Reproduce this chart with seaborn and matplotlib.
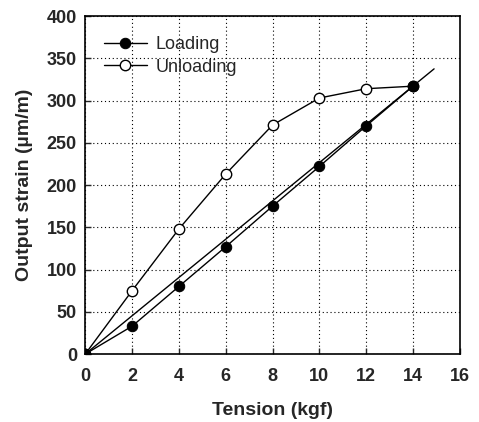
import numpy as np
import pandas as pd
import matplotlib
matplotlib.use('Agg')
import matplotlib.pyplot as plt
import seaborn as sns

# values
tension = [0, 2, 4, 6, 8, 10, 12, 14]
loading = [0, 33, 80, 127, 175, 222, 270, 317]
unloading = [0, 75, 148, 213, 271, 303, 314, 317]
fit_x = [0, 14.9]
fit_slope = 22.65

sns.set_style('ticks')
plt.rcParams['font.family'] = ['Liberation Sans', 'DejaVu Sans']

df = pd.DataFrame({'Tension': tension, 'Loading': loading, 'Unloading': unloading})

fig = plt.figure(figsize=(4.79, 4.22), dpi=100)
ax = fig.add_axes([0.178, 0.161, 0.782, 0.801])

# linear fit through origin
fx = np.array(fit_x)
ax.plot(fx, fit_slope * fx, color='black', lw=1.0, zorder=2)

sns.lineplot(data=df, x='Tension', y='Unloading', ax=ax, color='black', lw=1.0,
             marker='o', markersize=7.5, markerfacecolor='white',
             markeredgecolor='black', markeredgewidth=1.0, label='Unloading', zorder=3)
sns.lineplot(data=df, x='Tension', y='Loading', ax=ax, color='black', lw=1.0,
             marker='o', markersize=7.5, markerfacecolor='black',
             markeredgecolor='black', label='Loading', zorder=4)

ax.set_xlim(0, 16)
ax.set_ylim(0, 400)
ax.set_xticks(range(0, 17, 2))
ax.set_yticks(range(0, 401, 50))
ax.grid(True, color='black', linestyle=(0, (1, 2.5)), lw=0.8)
ax.tick_params(direction='in', length=4, width=1, labelsize=13)
ax.tick_params(axis='x', pad=10)
ax.tick_params(axis='y', pad=6)
for lbl in ax.get_xticklabels() + ax.get_yticklabels():
    lbl.set_fontweight('bold')
for s in ax.spines.values():
    s.set_linewidth(1.2)
    s.set_color('black')

ax.set_xlabel('Tension (kgf)', fontsize=14, fontweight='bold', labelpad=12)
ax.set_ylabel('Output strain (\u00b5m/m)', fontsize=14, fontweight='bold', labelpad=10)

handles, labels = ax.get_legend_handles_labels()
order = [labels.index('Loading'), labels.index('Unloading')]
ax.legend([handles[i] for i in order], [labels[i] for i in order],
          loc='upper left', frameon=False, fontsize=13, handlelength=2.4,
          borderaxespad=0.3, labelspacing=0.3, handletextpad=0.5,
          bbox_to_anchor=(0.015, 0.978))

fig.savefig('out.png', dpi=100)
